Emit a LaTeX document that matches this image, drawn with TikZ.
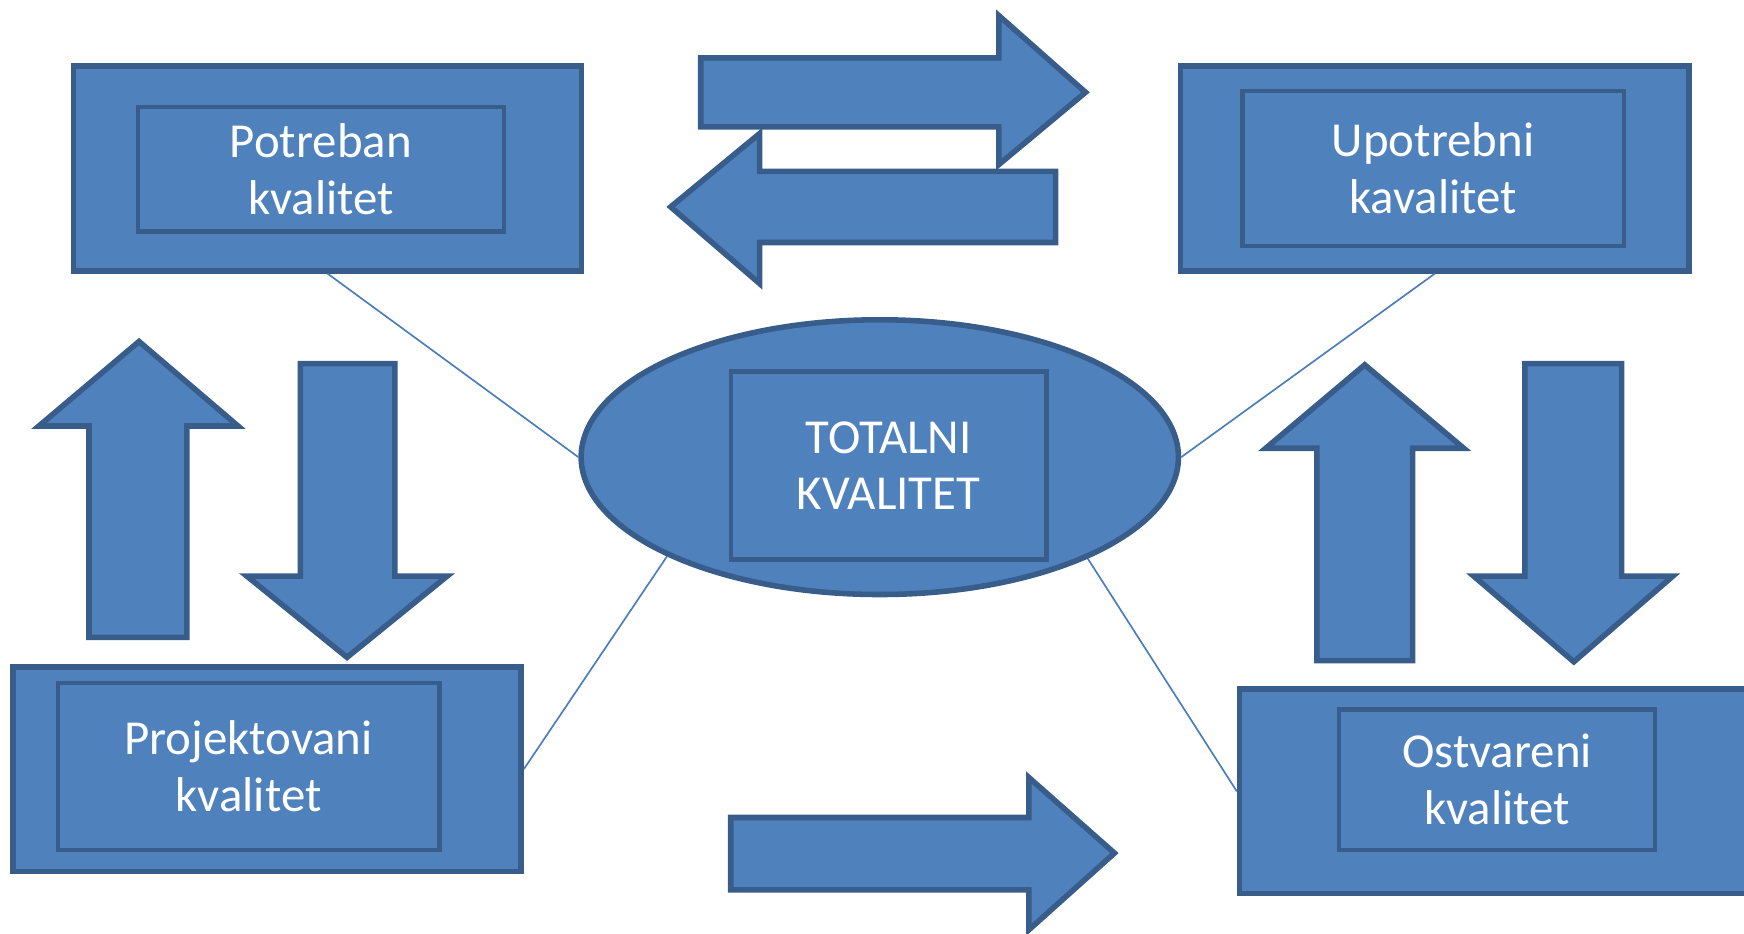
\documentclass[tikz,border=0pt]{standalone}
\usepackage{fontspec}
\setmainfont{Carlito}
\usetikzlibrary{shapes.geometric}
\definecolor{boxfill}{HTML}{4F81BD}
\definecolor{boxline}{HTML}{385D8A}
\definecolor{linkline}{HTML}{4A7EBB}
\begin{document}
\begin{tikzpicture}[x=0.2mm,y=-0.2mm,
  outerbox/.style={draw=boxline,fill=boxfill,line width=1mm,inner sep=0,minimum width=91.4mm,minimum height=36.8mm},
  innerbox/.style={draw=boxline,fill=boxfill,line width=0.8mm,inner sep=0,text=white,align=center,font=\fontsize{25}{29}\selectfont},
  blockarrow/.style={draw=boxline,fill=boxfill,line width=1mm,line join=miter},
  link/.style={draw=linkline,line width=0.3mm}]
\useasboundingbox (0,0) rectangle (1568,839);
% the four corner boxes
\node[outerbox] (pt) at (294.5,151.5) {};
\node[innerbox,minimum width=65.8mm,minimum height=22.4mm] (ptt) at (288.5,152) {Potreban\\kvalitet};
\node[outerbox] (up) at (1290,151.5) {};
\node[innerbox,minimum width=68.6mm,minimum height=27.8mm] (upt) at (1288.5,151.5) {Upotrebni\\kavalitet};
\node[outerbox] (pr) at (240,691.5) {};
\node[innerbox,minimum width=68.6mm,minimum height=30mm] (prt) at (223.5,689) {Projektovani\\kvalitet};
\node[outerbox] (os) at (1343,711.5) {};
\node[innerbox,minimum width=56.8mm,minimum height=25.2mm] (ost) at (1346,701) {Ostvareni\\kvalitet};
% center
\node[ellipse,draw=boxline,fill=boxfill,line width=1mm,inner sep=0,minimum width=107.4mm,minimum height=49.4mm] (tk) at (791,411) {};
\node[innerbox,minimum width=56.8mm,minimum height=33.8mm] (tkt) at (799,418.5) {TOTALNI\\KVALITET};
% thin links
\draw[link] (pt.south) -- (tk.west);
\draw[link] (up.south) -- (tk.east);
\draw[link] (tk.205) -- (pr.east);
\draw[link] (tk.334) -- (os.west);
% block arrows
\draw[blockarrow] (630,52) -- (898,52) -- (898,14) -- (976,83) -- (898,148) -- (898,114) -- (630,114) -- cycle;
\draw[blockarrow] (949,154) -- (683,154) -- (683,120) -- (603,186) -- (683,255) -- (683,218) -- (949,218) -- cycle;
\draw[blockarrow] (80,573) -- (80,383) -- (35,383) -- (125,307) -- (214,383) -- (168,383) -- (168,573) -- cycle;
\draw[blockarrow] (270,327) -- (270,518) -- (222,518) -- (312,591) -- (402,518) -- (355,518) -- (355,327) -- cycle;
\draw[blockarrow] (1184,594) -- (1184,403) -- (1138,403) -- (1227,328) -- (1316,403) -- (1270,403) -- (1270,594) -- cycle;
\draw[blockarrow] (1371,327) -- (1371,518) -- (1325,518) -- (1415,595) -- (1504,518) -- (1458,518) -- (1458,327) -- cycle;
\draw[blockarrow] (657,735) -- (925,735) -- (925,699) -- (1002,767) -- (925,836) -- (925,800) -- (657,800) -- cycle;
\end{tikzpicture}
\end{document}
